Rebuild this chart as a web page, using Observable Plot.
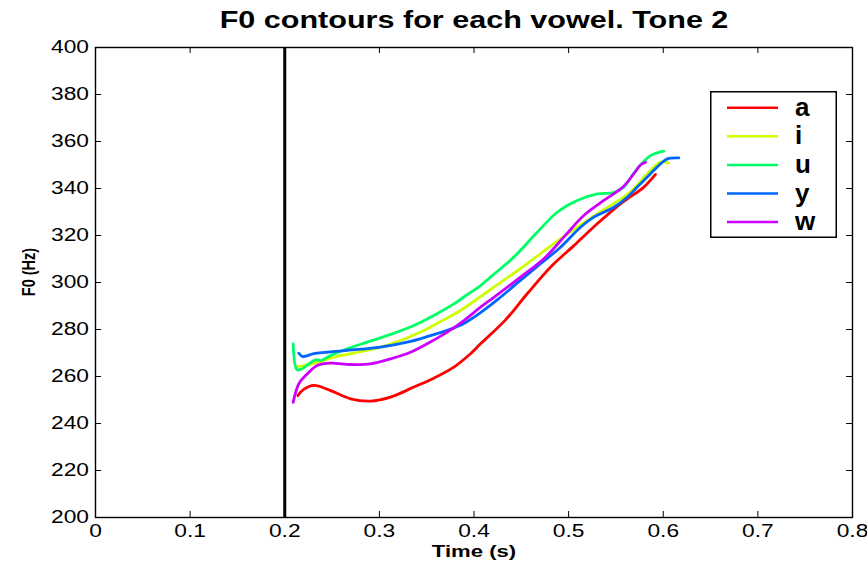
<!DOCTYPE html>
<html>
<head>
<meta charset="utf-8">
<script src="https://cdn.jsdelivr.net/npm/d3@7"></script>
<script src="https://cdn.jsdelivr.net/npm/@observablehq/plot@0.6"></script>
<style>
  html, body { margin: 0; padding: 0; background: #fff; }
  #wrap { position: relative; width: 867px; height: 565px; }
  #legend { position: absolute; left: 710px; top: 91px; }
</style>
</head>
<body>
<div id="wrap"></div>
<script>
const titleText = "F0 contours for each vowel. Tone 2";
const xLabel = "Time (s)";
const yLabel = "F0 (Hz)";

const vowels = ["a", "i", "u", "y", "w"];
const colors = ["#ff0000", "#ccff00", "#00ff66", "#0066ff", "#cc00ff"];

const xTicks = [0, 0.1, 0.2, 0.3, 0.4, 0.5, 0.6, 0.7, 0.8];
const yTicks = [200, 220, 240, 260, 280, 300, 320, 340, 360, 380, 400];
const markerTime = [0.2];

// vowel a (red)
const timeA = [0.2138, 0.2200, 0.2307, 0.2484, 0.2695, 0.2906, 0.3118, 0.3364, 0.3575, 0.3787, 0.3963, 0.4069, 0.4333, 0.4562, 0.4808, 0.5055, 0.5302, 0.5548, 0.5654, 0.5795, 0.5918];
const f0A   = [251.9, 254.5, 256.2, 254.0, 250.5, 249.5, 251.2, 255.5, 259.3, 264.0, 269.7, 273.9, 284.1, 295.2, 306.5, 315.7, 325.0, 333.5, 336.5, 340.6, 346.0];
// vowel i (yellow)
const timeI = [0.2131, 0.2230, 0.2325, 0.2519, 0.2765, 0.3012, 0.3223, 0.3435, 0.3646, 0.3857, 0.4069, 0.4210, 0.4527, 0.4844, 0.5126, 0.5372, 0.5583, 0.5689, 0.5830, 0.5971, 0.6059];
const f0I   = [264.0, 265.0, 265.7, 268.2, 270.3, 272.5, 275.3, 278.9, 283.4, 288.1, 294.0, 298.0, 307.0, 316.5, 324.5, 331.0, 336.3, 339.9, 346.3, 351.2, 350.8];
// vowel u (green)
const timeU = [0.2089, 0.2131, 0.2184, 0.2325, 0.2378, 0.2484, 0.2660, 0.2871, 0.3118, 0.3364, 0.3575, 0.3787, 0.3928, 0.4069, 0.4174, 0.4421, 0.4668, 0.4879, 0.5090, 0.5302, 0.5478, 0.5583, 0.5689, 0.5760, 0.5865, 0.6006];
const f0U   = [273.9, 262.8, 263.3, 267.1, 266.8, 268.9, 271.8, 274.6, 277.9, 281.7, 286.0, 290.9, 294.8, 298.7, 302.3, 310.8, 321.4, 329.9, 334.9, 337.7, 338.3, 340.6, 346.5, 350.0, 354.0, 355.9];
// vowel y (blue)
const timeY = [0.2149, 0.2191, 0.2307, 0.2660, 0.3012, 0.3294, 0.3540, 0.3717, 0.3893, 0.4069, 0.4245, 0.4491, 0.4703, 0.4914, 0.5126, 0.5266, 0.5478, 0.5619, 0.5725, 0.5865, 0.5971, 0.6042, 0.6165];
const f0Y   = [269.9, 268.5, 269.7, 271.1, 272.5, 274.6, 277.4, 279.6, 282.6, 287.2, 292.6, 300.9, 308.0, 315.0, 323.5, 327.8, 332.0, 336.3, 340.6, 346.3, 350.5, 352.6, 353.0];
// vowel w (purple)
const timeW = [0.2089, 0.2149, 0.2237, 0.2343, 0.2484, 0.2695, 0.2906, 0.3118, 0.3329, 0.3505, 0.3717, 0.3893, 0.4069, 0.4210, 0.4491, 0.4738, 0.4949, 0.5160, 0.5372, 0.5583, 0.5689, 0.5760, 0.5813];
const f0W   = [249.0, 256.9, 261.1, 264.7, 265.7, 265.1, 265.4, 267.5, 270.3, 273.9, 278.9, 283.8, 289.5, 293.7, 302.3, 310.1, 319.3, 328.5, 334.9, 341.0, 346.3, 350.0, 351.2];

const times = [timeA, timeI, timeU, timeY, timeW];
const f0s = [f0A, f0I, f0U, f0Y, f0W];
const rows = vowels.flatMap((v, i) => times[i].map((t, j) => ({vowel: v, t, f0: f0s[i][j]})));

const W = 867, H = 565, mT = 47, mL = 95, mR = 15, mB = 48;
const frameH = H - mT - mB, frameW = W - mL - mR;
const tickLen = 6;

const chart = Plot.plot({
  width: W, height: H,
  marginTop: mT, marginLeft: mL, marginRight: mR, marginBottom: mB,
  style: {fontFamily: "'Liberation Sans', Arial, sans-serif", fontSize: "17.5px", background: "#fff", color: "#000"},
  x: {domain: [0, 0.8]},
  y: {domain: [200, 400]},
  color: {domain: vowels, range: colors},
  marks: [
    Plot.tickX(xTicks, {x: d => d, insetTop: frameH - tickLen, stroke: "#000", strokeWidth: 1}),
    Plot.tickX(xTicks, {x: d => d, insetBottom: frameH - tickLen, stroke: "#000", strokeWidth: 1}),
    Plot.tickY(yTicks, {y: d => d, insetRight: frameW - tickLen, stroke: "#000", strokeWidth: 1}),
    Plot.tickY(yTicks, {y: d => d, insetLeft: frameW - tickLen, stroke: "#000", strokeWidth: 1}),
    Plot.axisX(xTicks, {tickSize: 0, tickPadding: 7, tickFormat: d => String(d), label: null}),
    Plot.axisY(yTicks, {tickSize: 0, tickPadding: 6.5, tickFormat: d => String(d), label: null}),
    Plot.ruleX(markerTime, {stroke: "#000", strokeWidth: 3}),
    Plot.line(rows, {x: "t", y: "f0", z: "vowel", stroke: "vowel", strokeWidth: 2.8, curve: "catmull-rom"}),
    Plot.frame({stroke: "#000", strokeWidth: 1.4}),
    Plot.text([titleText], {text: d => d, frameAnchor: "top", lineAnchor: "middle", dy: -27, fontWeight: "bold", fontSize: 23.5}),
    Plot.text([xLabel], {text: d => d, frameAnchor: "bottom", lineAnchor: "middle", dy: 34, fontWeight: "bold", fontSize: 17})
  ]
});

const wrap = document.getElementById("wrap");
wrap.appendChild(chart);

// horizontal stretch of the horizontal texts, as in the reference picture
const stretch = 1.3;
chart.querySelectorAll("text").forEach(el => {
  const w = el.getComputedTextLength();
  if (w > 0) {
    el.setAttribute("textLength", (w * stretch).toFixed(2));
    el.setAttribute("lengthAdjust", "spacingAndGlyphs");
  }
});

// rotated y-axis label (glyphs widened on screen like the reference)
d3.select(chart).append("text")
  .attr("transform", `translate(${mL - 67},${mT + frameH / 2 - 10}) rotate(-90) scale(1,${stretch})`)
  .attr("text-anchor", "middle")
  .attr("dy", "0.35em")
  .attr("font-family", "'Liberation Sans', Arial, sans-serif")
  .attr("font-weight", "bold")
  .attr("font-size", 14.5)
  .attr("fill", "#000")
  .text(yLabel);

// legend
const lg = d3.select(wrap).append("svg")
  .attr("id", "legend")
  .attr("width", 128).attr("height", 148);
lg.append("rect")
  .attr("x", 0.75).attr("y", 0.75).attr("width", 125.5).attr("height", 145.5)
  .attr("fill", "#fff").attr("stroke", "#000").attr("stroke-width", 1.5);
vowels.forEach((v, i) => {
  const yy = 16.7 + i * 28.6;
  lg.append("line")
    .attr("x1", 17).attr("x2", 68).attr("y1", yy).attr("y2", yy)
    .attr("stroke", colors[i]).attr("stroke-width", 2.5);
  lg.append("text")
    .attr("x", 85).attr("y", yy + 8)
    .attr("font-family", "'Liberation Sans', Arial, sans-serif")
    .attr("font-weight", "bold").attr("font-size", 26)
    .text(v);
});
</script>
</body>
</html>
